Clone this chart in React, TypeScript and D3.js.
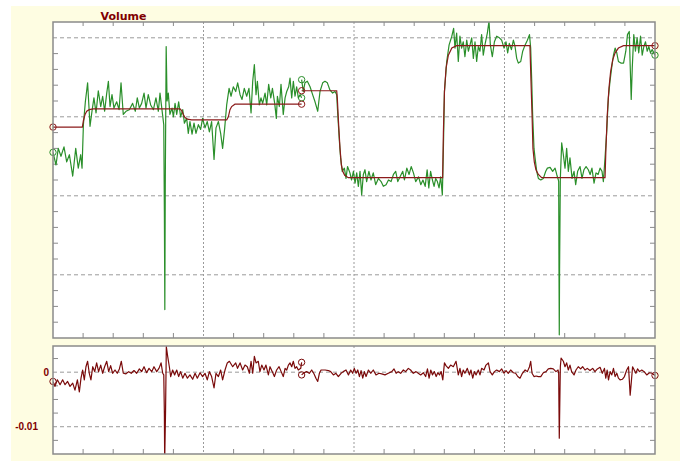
import React from "react";
import * as d3 from "d3";

// ---------- DATA ----------
const title = "Volume";
const xDomain: [number, number] = [0, 400];
const topDomain: [number, number] = [-0.8, 3.2];
const botDomain: [number, number] = [-0.015, 0.0048];
const xMajorTicks = [100, 200, 300];
const topMajorTicks = [0, 1, 2, 3];
const botTickValues = [0, -0.01];
const botTickLabels = ["0", "-0.01"];

// measured (green), segment 1 : [time, value]
const measured1: [number, number][] = [
  [0, 1.55], [2, 1.39], [3.5, 1.6], [5.3, 1.5], [7.3, 1.62], [9.1, 1.43], [10.9, 1.52], [13.1, 1.25],
  [15.1, 1.6], [16.8, 1.35], [18.4, 1.52], [19.3, 1.35], [20.2, 1.9], [21.5, 2.19], [23, 2.43],
  [24.6, 1.88], [25.9, 2.07], [27.2, 2.24], [28.6, 2.05], [30.1, 2.33], [31.7, 2.13], [33, 2.26],
  [34.3, 2.07], [35.7, 2.3], [36.8, 2.45], [37.9, 2.13], [39.2, 2.28], [40.5, 2.11], [42.3, 2.19],
  [43.9, 2.09], [45.2, 2.43], [46.7, 2.03], [48.5, 2.07], [50.7, 2.09], [52.9, 2.17], [54.7, 2.07],
  [56, 2.24], [57.4, 2.11], [58.9, 2.17], [60.5, 2.3], [61.8, 2.11], [63.3, 2.28], [64.9, 2.15],
  [66.7, 2.09], [68.4, 2.24], [70, 2.07], [71.1, 2.3], [72.4, 2.09], [73.6, 1.9], [74.0, 0.8],
  [74.3, -0.44], [74.6, 1.14], [75.2, 2.89], [75.8, 2.2], [76.6, 2.3], [77.7, 2.03], [79.1, 2.11],
  [80, 2.0], [81.1, 2.17], [82.2, 2.03], [83.5, 2.19], [84.8, 2.0], [86.2, 2.09], [87.3, 1.92],
  [88.8, 1.98], [89.9, 1.79], [91, 1.94], [92.4, 1.78], [93.7, 1.92], [95, 1.79], [96.6, 1.9],
  [98.1, 1.84], [99.4, 1.98], [101, 1.86], [102.5, 1.94], [103.9, 1.81], [105.4, 1.94], [107, 1.46],
  [108.3, 1.86], [109.9, 1.94], [111.4, 1.79], [112.7, 1.6], [114.1, 1.86], [115.4, 2.15], [117, 2.36],
  [118.3, 2.26], [119.8, 2.38], [121.4, 2.32], [122.7, 2.43], [124.3, 2.28], [125.6, 2.22], [127.1, 2.36],
  [128.7, 2.26], [130.2, 2.36], [131.6, 2.05], [132.7, 2.45], [133.8, 2.66], [134.9, 2.28], [135.8, 2.45],
  [137.1, 2.15], [138.2, 2.24], [139.3, 2.17], [140.9, 2.3], [142, 2.15], [143.3, 2.41], [144.7, 2.24],
  [145.8, 2.36], [147.3, 2.17], [148.4, 1.98], [149.1, 2.26], [150.4, 2.13], [151.5, 2.41], [153, 2.03],
  [154.2, 2.24], [155.3, 2.32], [156.6, 2.38], [157.5, 2.49], [158.6, 2.24], [159.7, 2.45], [160.8, 2.26],
  [161.9, 2.38], [163, 2.24], [164.2, 2.28], [165.2, 2.24],
];

// measured (green), segment 2
const measured2: [number, number][] = [
  [165.2, 2.47], [166.3, 2.32], [167.4, 2.43], [169, 2.45], [170.8, 2.38], [172.5, 2.28], [174.1, 2.19],
  [175.9, 2.07], [177.4, 2.32], [179.2, 2.43], [180.7, 2.45], [182.3, 2.43], [184, 2.34], [185.8, 2.3],
  [187.4, 2.32], [188.5, 2.28], [189.2, 2.03], [190.3, 1.69], [191.1, 1.48], [192.2, 1.31], [193.6, 1.35],
  [194.7, 1.22], [195.7, 1.37], [197.3, 1.29], [198.4, 1.2], [199.6, 1.31], [200.7, 1.16], [201.8, 1.29],
  [202.9, 1.12], [204, 1.31], [205.1, 1.01], [206.2, 1.27], [207.3, 1.33], [208.4, 1.18], [209.9, 1.31],
  [211.3, 1.2], [212.8, 1.29], [214.4, 1.14], [216.2, 1.22], [218, 1.18], [219.5, 1.12], [221.3, 1.14],
  [222.9, 1.2], [224.6, 1.18], [226.2, 1.27], [227.7, 1.31], [229.1, 1.18], [230.6, 1.24], [232.4, 1.31],
  [233.5, 1.2], [235.1, 1.35], [236.6, 1.27], [238, 1.37], [239.5, 1.29], [241, 1.18], [242.9, 1.24],
  [244.4, 1.14], [245.8, 1.2], [247.3, 1.12], [248.6, 1.33], [249.7, 1.1], [250.9, 1.31], [252.1, 1.2],
  [253.2, 1.12], [254.3, 1.22], [255.4, 1.18], [256.5, 1.1], [257.6, 1.24], [258.7, 1.01], [259.4, 1.6],
  [260.1, 2.32], [261.6, 2.7], [263.2, 2.91], [265, 3.02], [266.2, 3.12], [267.1, 2.87], [268.2, 3.06],
  [269.3, 2.7], [270.4, 3.02], [271.5, 2.87], [272.6, 2.95], [273.7, 2.76], [274.9, 2.97], [276, 2.83],
  [277.1, 2.91], [278.2, 3.0], [279.3, 2.74], [280.4, 2.95], [281.5, 2.7], [282.6, 2.89], [283.7, 2.83],
  [284.8, 3.04], [285.9, 2.78], [287, 2.91], [288.6, 3.06], [289.7, 3.21], [290.6, 2.91], [291.9, 2.76],
  [293.3, 2.95], [294.8, 3.02], [296.6, 3.0], [298.1, 2.97], [299.7, 2.87], [301, 2.95], [302.1, 2.81],
  [303.2, 2.93], [304.6, 2.85], [305.9, 2.97], [307, 2.89], [308.1, 2.74], [309.2, 2.68], [310.8, 2.7],
  [312.1, 2.83], [313.7, 2.91], [315.2, 2.97], [316.6, 3.04], [317.4, 2.87], [318.1, 2.45], [318.7, 2.03],
  [319.6, 1.6], [320.3, 1.48], [321.4, 1.31], [322.5, 1.22], [324.1, 1.2], [325.8, 1.22], [327.4, 1.31],
  [328.5, 1.35], [330.3, 1.36], [332, 1.31], [333.6, 1.35], [334.7, 1.27], [335.8, 1.2], [336, 1.18],
  [336.2, 0.08], [336.4, -0.76], [336.6, 0.08], [337.1, 1.22], [338, 1.67], [339.1, 1.52], [340.2, 1.35],
  [341.3, 1.6], [342.4, 1.31], [343.5, 1.48], [344.9, 1.22], [346.2, 1.31], [347.3, 1.14], [348.6, 1.31],
  [350.2, 1.37], [351.5, 1.22], [352.8, 1.33], [354.2, 1.37], [355.7, 1.33], [356.9, 1.27], [358.1, 1.35],
  [359.5, 1.16], [360.8, 1.29], [362.2, 1.27], [363.5, 1.35], [364.8, 1.31], [365.7, 1.18], [366.8, 1.48],
  [367.9, 1.81], [369, 2.24], [370.1, 2.45], [371.2, 2.62], [372.4, 2.78], [373.5, 2.87], [374.6, 2.81],
  [375.7, 2.7], [377.3, 2.68], [379.1, 2.68], [380.6, 2.83], [381.7, 3.04], [382.9, 3.08], [383.5, 2.66],
  [384.2, 2.22], [384.9, 2.62], [385.9, 3.04], [387, 2.83], [388.1, 3.0], [389.2, 2.81], [390.4, 3.02],
  [391.5, 2.78], [392.6, 2.89], [393.7, 2.95], [394.8, 2.83], [395.9, 2.89], [397, 2.81], [398.1, 2.85],
  [400, 2.78],
];

// model (red), segment 1
const model1: [number, number][] = [
  [0, 1.87], [19.5, 1.87], [20.2, 1.95], [21.3, 2.03], [22.4, 2.07], [24.1, 2.09], [26.8, 2.1],
  [84.4, 2.1], [85.5, 2.08], [86.6, 2.03], [87.7, 1.99], [89.3, 1.97], [92.1, 1.96], [115.4, 1.96],
  [116.5, 2.0], [117.6, 2.09], [118.7, 2.13], [120.9, 2.16], [124.3, 2.16], [165.2, 2.16],
];

// model (red), segment 2
const model2: [number, number][] = [
  [165.2, 2.33], [188.5, 2.33], [188.9, 2.24], [189.8, 1.9], [190.7, 1.6], [191.6, 1.39], [192.5, 1.31],
  [193.8, 1.26], [196.2, 1.23], [258.9, 1.23], [259.4, 1.8], [260.1, 2.32], [261.2, 2.62], [262.7, 2.78],
  [265, 2.87], [268.2, 2.9], [316.9, 2.9], [317.6, 2.45], [318.3, 2.03], [318.9, 1.6], [319.8, 1.43],
  [320.9, 1.33], [322.5, 1.27], [324.7, 1.23], [366.8, 1.23], [367.4, 1.6], [368.3, 2.03], [369.4, 2.36],
  [370.5, 2.57], [371.9, 2.72], [373.5, 2.81], [375.7, 2.87], [379.1, 2.9], [400, 2.9],
];

// residuals (units of 1e-3), segment 1
const residual1: [number, number][] = [
  [0, -1.7], [1.3, -2.6], [2.9, -1.4], [4.7, -2.3], [6.4, -1.4], [8, -2.3], [9.7, -1.7], [11.3, -2.6],
  [13.1, -2.0], [14.6, -3.3], [16.2, -1.4], [17.5, -3.6], [18.6, -1.1], [19.7, 0.4], [20.8, -1.4],
  [21.9, 1.0], [23, 2.0], [24.1, -0.2], [25.2, -1.4], [26.4, 1.0], [27.7, 0.1], [29, 1.7], [30.3, 0.1],
  [31.7, 1.3], [33, -0.2], [34.3, 1.0], [35.7, 2.0], [37, 0.1], [38.3, 1.2], [39.6, -0.2], [41.2, 0.4],
  [42.7, -0.2], [44.1, 0.6], [45.4, 2.0], [46.7, -0.2], [48.5, -0.3], [50.3, 0.1], [52, -0.2], [53.8, 0.3],
  [55.6, -0.2], [57.4, 0.6], [58.9, 0.1], [60.5, 1.0], [62.2, -0.1], [63.8, 0.7], [65.6, 0.1], [67.1, 1.0],
  [68.9, 0.1], [70.4, 0.7], [71.8, 1.7], [72.9, -0.2], [73.6, -0.5], [74.0, -7.5], [74.2, -16.5],
  [74.8, -7.0], [75.3, 4.7], [76.2, 2.9], [77.3, 1.0], [78.2, -0.8], [79.5, 0.4], [80.8, -0.5], [82.2, 0.4],
  [83.5, -0.8], [84.8, 0.1], [86.2, -1.1], [87.7, -0.2], [89.3, -1.1], [91, -0.5], [92.8, -1.3], [94.4, -0.2],
  [95.9, -1.1], [97.7, -0.1], [99.4, -0.8], [101, -0.2], [102.5, -1.4], [103.9, 0.1], [105.4, -0.8],
  [107, -2.9], [108.3, -0.2], [109.9, -0.8], [111.4, 0.4], [112.7, -1.4], [114.3, 0.4], [115.8, 1.7],
  [117.2, 2.0], [119.4, 1.0], [121.4, 1.7], [122.6, 0.7], [124.3, 1.7], [126, 0.4], [127.6, 1.3],
  [129.1, 1.0], [130.5, -0.2], [131.6, 2.0], [132.7, -0.2], [133.8, 2.9], [134.9, 1.7], [136.4, 2.0],
  [137.5, 0.1], [138.7, 1.3], [140.2, 0.4], [141.5, 1.3], [143.1, -0.5], [144.2, 1.0], [145.7, 0.1],
  [147.1, -0.8], [148.6, 0.4], [150.2, 1.0], [151.6, 0.1], [153, -0.8], [154.2, 0.7], [155.3, 0.4],
  [156.4, 1.3], [157.5, 1.7], [158.6, 1.0], [159.7, 2.0], [160.8, 0.7], [161.9, 1.0], [163, 0.4],
  [164.6, 0.7], [165.2, 1.8],
];

// residuals (units of 1e-3), segment 2
const residual2: [number, number][] = [
  [165.2, -0.5], [166.8, -0.1], [168.5, 0.1], [170.3, -0.2], [171.9, 0.4], [173.4, -0.3], [174.7, -1.1],
  [175.9, -1.7], [177, -0.2], [178.1, 0.4], [180.8, 0.4], [183, 0.3], [184.5, 0.1], [186.3, -0.5],
  [188, -0.2], [189.6, -0.8], [191.4, -0.2], [192.9, 0.1], [194.7, 0.4], [196.3, -0.5], [197.8, 0.4],
  [199.1, -0.2], [200.2, 0.7], [201.4, -0.2], [202.5, 0.4], [203.6, -0.8], [204.7, 0.3], [205.8, -1.1],
  [206.9, 0.1], [208, -0.8], [209.6, 0.4], [211.1, -0.2], [212.8, 0.4], [214.6, -0.5], [216.6, -0.2],
  [218.4, -0.3], [220.6, -0.5], [222.8, -0.2], [225.1, 0.1], [226.6, 0.6], [228, -0.2], [229.4, 0.1],
  [231, -0.2], [232.8, 0.4], [234.3, 0.1], [236.1, 0.7], [237.6, 0.4], [239.4, -0.2], [241.2, 0.1],
  [242.7, -0.2], [244.3, -0.5], [246.1, -0.1], [247.6, -0.8], [248.8, 0.6], [249.9, -1.1], [251, 0.4],
  [252.1, -0.5], [253.4, 0.1], [254.6, -0.8], [255.7, -0.1], [256.8, -0.5], [257.9, 0.1], [259, -1.4],
  [260.1, 1.7], [261.1, 1.2], [262.7, 0.7], [264.2, 1.3], [266, 1.0], [267.8, 2.0], [269.3, -0.5],
  [270.4, 0.7], [271.5, -0.8], [272.6, 0.4], [273.7, -0.2], [275.3, 0.7], [276.7, -0.5], [277.7, 0.4],
  [278.9, -1.1], [280, 0.1], [281.1, -0.5], [282.6, 0.4], [283.7, -0.5], [284.8, 0.7], [286.4, 0.4],
  [287.7, 1.3], [289.3, 1.7], [290.4, 0.1], [291.9, -0.5], [293.3, 0.1], [294.8, 0.4], [296.6, 0.1],
  [298.1, 0.6], [299.7, -0.2], [301, 0.3], [302.5, -0.2], [304.1, 0.4], [305.9, -0.1], [307.4, -0.2],
  [308.8, -0.8], [310.3, -1.1], [311.9, -0.2], [313.7, 0.4], [315.2, 0.1], [316.6, 1.0], [317.4, 2.0],
  [318.3, -0.2], [319.6, -0.8], [321, -0.7], [322.5, -0.8], [324.1, -0.8], [325.8, -0.1], [327.6, 0.1],
  [329.1, 0.6], [330.7, 0.7], [332.4, 0.6], [334.2, 0.1], [335.6, 0.4], [336.0, -0.2], [336.2, -6.6],
  [336.4, -12.1], [336.7, -6.6], [337.1, 1.0], [337.6, 2.6], [339.1, 2.0], [340.2, 1.0], [341.3, 1.7],
  [342.4, 0.4], [343.5, 1.3], [344.6, 0.1], [346.2, -0.5], [347.5, 0.4], [349, 1.0], [350.6, 0.6],
  [351.9, 1.0], [353.5, 0.4], [355, 0.7], [356.8, 0.3], [358.6, 0.7], [360.1, 0.1], [361.7, 0.6],
  [363.5, 0.9], [365, -0.2], [366.4, 0.7], [367.3, -1.1], [368.2, 0.4], [369.1, -1.4], [370.2, 0.1],
  [371.3, -0.5], [372.4, 0.7], [373.5, -0.8], [374.6, -0.2], [375.7, -1.1], [376.8, -1.4], [378.3, -1.3],
  [379.7, -0.8], [381.2, 0.4], [382.4, 1.0], [383.5, -4.2], [384.2, -2.0], [385.1, 1.0], [386.2, 0.4],
  [387.3, -0.2], [388.4, 0.6], [389.7, 0.1], [391.2, 0.4], [392.8, 0.1], [394.5, -0.5], [396.3, -0.1],
  [398, -0.2], [400, -0.6],
];
const RES_UNIT = 1e-3;

// ---------- LAYOUT / STYLE ----------
const W = 680, H = 461;
const PX0 = 53, PX1 = 655;
const TOP = { y0: 22, y1: 338 };
const BOT = { y0: 346, y1: 454 };
const GREEN = "#2A8F2A";
const RED = "#8B1A1A";
const RESCOL = "#7A0A0A";
const AXIS = "#8a8a8a";
const GRID = "#9a9a9a";
const CREAM = "#FEFDE2";

export default function App() {
  const x = d3.scaleLinear().domain(xDomain).range([PX0, PX1]);
  const yT = d3.scaleLinear().domain(topDomain).range([TOP.y1, TOP.y0]);
  const yB = d3.scaleLinear().domain(botDomain).range([BOT.y1, BOT.y0]);

  const lineT = d3.line<[number, number]>().x((d) => x(d[0])).y((d) => yT(d[1]));
  const lineB = d3.line<[number, number]>().x((d) => x(d[0])).y((d) => yB(d[1] * RES_UNIT));

  const xMinor = d3.range(20, 400, 20).filter((t) => t % 100 !== 0);
  const yTopMinor = d3.range(-0.6, 3.2, 0.2).map((v) => Math.round(v * 10) / 10).filter((v) => Math.abs(v - Math.round(v)) > 1e-6);
  const yBotMinor = d3.range(-0.0125, 0.0048, 0.0025).filter((v) => Math.abs(v) > 1e-9 && Math.abs(v + 0.01) > 1e-9);

  const circles = (segs: [number, number][][], yf: (d: [number, number]) => number, color: string) =>
    segs.flatMap((s, i) => [s[0], s[s.length - 1]].map((d, j) => (
      <circle key={`${color}-${i}-${j}`} cx={x(d[0])} cy={yf(d)} r={3.2} fill="none" stroke={color} strokeWidth={1} />
    )));

  const panelFrame = (y0: number, y1: number, yTicks: number[], ys: (v: number) => number, showTop: boolean) => (
    <g>
      <rect x={PX0} y={y0} width={PX1 - PX0} height={y1 - y0} fill="#fff" />
      {xMajorTicks.map((t) => (
        <line key={`vx${t}`} x1={x(t)} x2={x(t)} y1={y0} y2={y1} stroke={GRID} strokeWidth={1} strokeDasharray="2 2" />
      ))}
      {xMinor.map((t) => (
        <g key={`mx${t}`}>
          {showTop && <line x1={x(t)} x2={x(t)} y1={y0} y2={y0 + 4} stroke={AXIS} />}
          <line x1={x(t)} x2={x(t)} y1={y1} y2={y1 - 5} stroke={AXIS} />
        </g>
      ))}
      {yTicks.map((v) => (
        <g key={`my${v}`}>
          <line x1={PX0} x2={PX0 + 5} y1={ys(v)} y2={ys(v)} stroke={AXIS} />
          <line x1={PX1} x2={PX1 - 5} y1={ys(v)} y2={ys(v)} stroke={AXIS} />
        </g>
      ))}
    </g>
  );

  return (
    <svg width={W} height={H} style={{ position: "absolute", left: 0, top: 0 }} xmlns="http://www.w3.org/2000/svg">
      <rect x={0} y={0} width={W} height={H} fill="#fff" />
      <rect x={11} y={6} width={W - 11} height={H - 6} fill={CREAM} />
      <defs>
        <clipPath id="clipTop"><rect x={PX0} y={TOP.y0} width={PX1 - PX0} height={TOP.y1 - TOP.y0} /></clipPath>
        <clipPath id="clipBot"><rect x={PX0} y={BOT.y0} width={PX1 - PX0} height={BOT.y1 - BOT.y0} /></clipPath>
      </defs>

      {/* top panel */}
      {panelFrame(TOP.y0, TOP.y1, yTopMinor, yT, true)}
      {topMajorTicks.map((v) => (
        <line key={`gy${v}`} x1={PX0} x2={PX1} y1={yT(v)} y2={yT(v)} stroke={GRID} strokeWidth={1} strokeDasharray="4 3" />
      ))}
      <g clipPath="url(#clipTop)">
        <path d={lineT(measured1) || ""} fill="none" stroke={GREEN} strokeWidth={1.2} strokeLinejoin="round" />
        <path d={lineT(measured2) || ""} fill="none" stroke={GREEN} strokeWidth={1.2} strokeLinejoin="round" />
        <path d={lineT(model1) || ""} fill="none" stroke={RED} strokeWidth={1.2} />
        <path d={lineT(model2) || ""} fill="none" stroke={RED} strokeWidth={1.2} />
      </g>
      {circles([measured1, measured2], (d) => yT(d[1]), GREEN)}
      {circles([model1, model2], (d) => yT(d[1]), RED)}
      <rect x={PX0} y={TOP.y0} width={PX1 - PX0} height={TOP.y1 - TOP.y0} fill="none" stroke={AXIS} strokeWidth={1.5} />
      <text x={123.5} y={19.5} textAnchor="middle" fontFamily="DejaVu Sans, sans-serif" fontWeight="bold" fontSize={11} fill="#800000">{title}</text>

      {/* bottom panel */}
      {panelFrame(BOT.y0, BOT.y1, yBotMinor, yB, false)}
      {botTickValues.map((v) => (
        <line key={`gb${v}`} x1={PX0} x2={PX1} y1={yB(v)} y2={yB(v)} stroke={GRID} strokeWidth={1} strokeDasharray="4 3" />
      ))}
      <g clipPath="url(#clipBot)">
        <path d={lineB(residual1) || ""} fill="none" stroke={RESCOL} strokeWidth={1.2} strokeLinejoin="round" />
        <path d={lineB(residual2) || ""} fill="none" stroke={RESCOL} strokeWidth={1.2} strokeLinejoin="round" />
      </g>
      {circles([residual1, residual2], (d) => yB(d[1] * RES_UNIT), RESCOL)}
      <rect x={PX0} y={BOT.y0} width={PX1 - PX0} height={BOT.y1 - BOT.y0} fill="none" stroke={AXIS} strokeWidth={1.5} />
      {botTickValues.map((v, i) => (
        <text key={`bl${v}`} x={v === 0 ? 49 : 38} y={yB(v) + 3.5} textAnchor="end" fontFamily="Liberation Sans, Arial, sans-serif" fontWeight="bold" fontSize={10} fill="#800000">{botTickLabels[i]}</text>
      ))}
    </svg>
  );
}
